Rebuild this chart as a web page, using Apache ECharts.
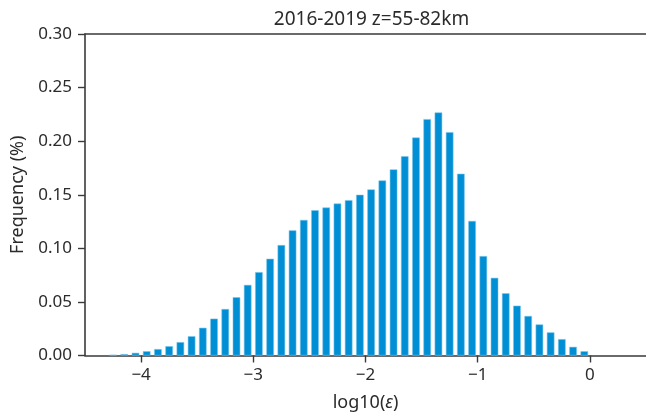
<!DOCTYPE html>
<html><head><meta charset="utf-8">
<script src="https://cdn.jsdelivr.net/npm/echarts@6/dist/echarts.min.js"></script>
<style>html,body{margin:0;padding:0;background:#fff}#c{width:646px;height:418px}</style>
</head><body><div id="c"></div>
<script>
const binCenters = [-4.25,-4.15,-4.05,-3.95,-3.85,-3.75,-3.65,-3.55,-3.45,-3.35,-3.25,-3.15,-3.05,-2.95,-2.85,-2.75,-2.65,-2.55,-2.45,-2.35,-2.25,-2.15,-2.05,-1.95,-1.85,-1.75,-1.65,-1.55,-1.45,-1.35,-1.25,-1.15,-1.05,-0.95,-0.85,-0.75,-0.65,-0.55,-0.45,-0.35,-0.25,-0.15,-0.05];
const frequency = [0.0007,0.0013,0.0025,0.004,0.006,0.0087,0.0125,0.018,0.0259,0.0344,0.0434,0.0544,0.0659,0.0778,0.0903,0.1031,0.1168,0.1265,0.1356,0.1381,0.1418,0.145,0.150,0.155,0.1634,0.1737,0.1859,0.2034,0.2206,0.2268,0.2084,0.1696,0.1256,0.0928,0.0725,0.0581,0.0465,0.0369,0.029,0.0216,0.0153,0.0081,0.004];
const xTicks = [-4,-3,-2,-1,0];

const chart = echarts.init(document.getElementById('c'), null, {renderer:'canvas'});
const font = '"Noto Sans", sans-serif';
const axisCol = '#3a3a3a';
const txtCol = '#2b2b2b';
chart.setOption({
  animation:false,
  title:{text:'2016-2019 z=55-82km', left:366.5, top:5, textAlign:'center',
    textStyle:{fontFamily:font, fontSize:19, fontWeight:'normal', color:txtCol}},
  grid:{left:85, right:-2, top:34, bottom:62.5, show:false},
  xAxis:[{
    type:'value', min:-4.5, max:0.5,
    name:'{a|log10(}{b|ε}{a|)}', nameLocation:'middle', nameGap:38,
    nameTextStyle:{rich:{a:{fontFamily:font,fontSize:18,color:txtCol},b:{fontFamily:font,fontSize:18,fontStyle:'italic',color:txtCol}}},
    axisLine:{show:true, onZero:false, lineStyle:{color:axisCol, width:1.6}},
    axisTick:{show:true, length:7, lineStyle:{color:axisCol, width:1.4}, customValues:xTicks},
    axisLabel:{customValues:xTicks, fontFamily:font, fontSize:17, color:txtCol, margin:11,
      formatter:v=>(v<0?'\u2212':'')+Math.abs(v)},
    splitLine:{show:false}
  },{
    type:'value', min:-4.5, max:0.5, position:'top',
    axisLine:{show:true, onZero:false, lineStyle:{color:axisCol, width:1.6}},
    axisTick:{show:false}, axisLabel:{show:false}, splitLine:{show:false}
  }],
  yAxis:{
    type:'value', min:0, max:0.3, interval:0.05,
    name:'Frequency (%)', nameLocation:'middle', nameGap:58, nameRotate:90,
    nameTextStyle:{fontFamily:font, fontSize:18, color:txtCol},
    axisLine:{show:true, onZero:false, lineStyle:{color:axisCol, width:1.6}},
    axisTick:{show:true, length:7, lineStyle:{color:axisCol, width:1.4}},
    axisLabel:{fontFamily:font, fontSize:17, color:txtCol, margin:13, formatter:v=>v.toFixed(2)},
    splitLine:{show:false}
  },
  series:[{
    type:'bar', xAxisIndex:0, barWidth:7.6,
    data: binCenters.map((x,i)=>[x, frequency[i]]),
    itemStyle:{color:'#008fd5', borderColor:'rgba(120,195,235,0.9)', borderWidth:0.6}
  }]
});
</script></body></html>
